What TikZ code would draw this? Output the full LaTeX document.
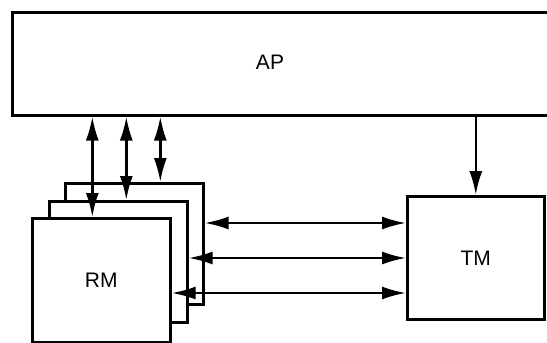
\documentclass[tikz,border=0pt]{standalone}
\usepackage{fontspec}
\setmainfont{Liberation Sans}
\usetikzlibrary{arrows.meta}
\begin{document}
\begin{tikzpicture}[x=1pt,y=-1pt,
  box/.style={draw, line width=2.6pt, fill=white, inner sep=0pt},
  lbl/.style={font=\fontsize{21}{25}\selectfont},
  tip/.tip={Latex[length=24pt,width=13pt]},
  bi/.style={line width=2.4pt, tip-tip},
  uni/.style={line width=2.4pt, -tip}]
\clip (0,0) rectangle (547,343);
\useasboundingbox (0,0) rectangle (547,343);
% AP
\node[box, minimum width=560pt, minimum height=103pt, anchor=north west] (ap) at (11,11) {};
\node[lbl] (aptext) at (270,62) {AP};
% RM stack
\node[box, minimum width=138pt, minimum height=121pt, anchor=north west] (rm3) at (64,182) {};
\node[box, minimum width=138pt, minimum height=121pt, anchor=north west] (rm2) at (48,200) {};
\node[box, minimum width=138pt, minimum height=124pt, anchor=north west, lbl] (rm1) at (31,217) {RM};
% TM
\node[box, minimum width=137pt, minimum height=123pt, anchor=north west, lbl] (tm) at (406,195) {TM};
% vertical arrows
\draw[bi] ([xshift=-9pt]rm1.north |- ap.south) -- ([xshift=-9pt]rm1.north);
\draw[bi] ([xshift=8pt]rm2.north |- ap.south) -- ([xshift=8pt]rm2.north);
\draw[bi] ([xshift=26pt]rm3.north |- ap.south) -- ([xshift=26pt]rm3.north);
\draw[uni] (tm.north |- ap.south) -- (tm.north);
% horizontal arrows
\draw[bi] (rm3.east |- 0,223) -- (tm.west |- 0,223);
\draw[bi] (rm2.east |- 0,258) -- (tm.west |- 0,258);
\draw[bi] (rm1.east |- 0,293) -- (tm.west |- 0,293);
\end{tikzpicture}
\end{document}
